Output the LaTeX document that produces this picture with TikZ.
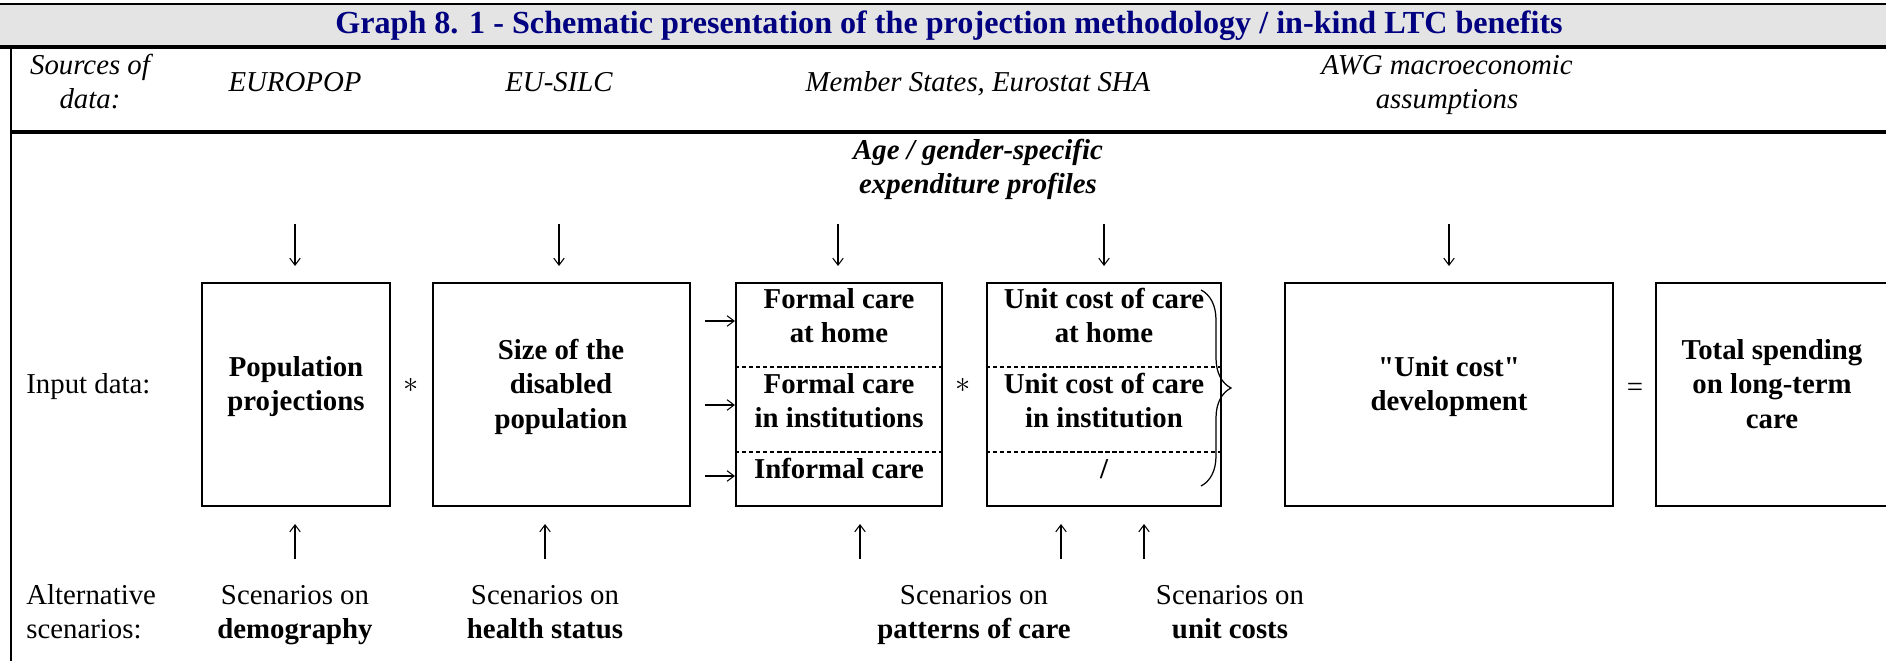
\documentclass[tikz,border=0pt]{standalone}
\usepackage{fontspec}
\setmainfont{Liberation Serif}[Ligatures=TeXOff]
\usetikzlibrary{arrows.meta,decorations.pathreplacing,fit}
\definecolor{titleblue}{RGB}{0,0,128}
\definecolor{titlegray}{RGB}{228,228,228}
\begin{document}
\begin{tikzpicture}[x=0.02cm,y=-0.02cm,
  lbl/.style={font=\fontsize{16.4}{19.5}\selectfont, align=center, inner sep=0pt},
  lblit/.style={font=\fontsize{16.4}{19.5}\selectfont\itshape, align=center, inner sep=0pt},
  boxtxt/.style={font=\fontsize{16.4}{19.5}\selectfont\bfseries, align=center, inner sep=0pt},
  bx/.style={draw, line width=1.2pt, inner sep=0pt},
  dsh/.style={line width=1pt, dash pattern=on 2.5pt off 1.5pt},
  arr/.style={-{Straight Barb[length=4pt,width=6pt]}, line width=0.6pt},
  rule/.style={line width=#1}
]
\useasboundingbox (0,0) rectangle (1886,661);
% title bar
\fill[titlegray] (0,4) rectangle (1886,47);
\draw[rule=1.1pt] (0,4) -- (1886,4);
\draw[rule=2.4pt] (0,47) -- (1886,47);
\node[font=\fontsize{18.3}{21}\selectfont\bfseries, text=titleblue, inner sep=0pt] (title) at (949,26)
  {Graph 8. 1 - Schematic presentation of the projection methodology / in-kind LTC benefits};
% frame
\draw[rule=1.2pt] (11,47) -- (11,661);
\draw[rule=1.8pt] (11,132) -- (1886,132);
% sources row
\node[lblit] (src) at (90,85) {\strut Sources of\\\strut data:};
\node[lblit] (europop) at (295,85) {\strut EUROPOP};
\node[lblit] (eusilc) at (559,85) {\strut EU-SILC};
\node[lblit] (ms) at (978,85) {\strut Member States, Eurostat SHA};
\node[lblit] (awg) at (1447,85) {\strut AWG macroeconomic\\\strut assumptions};
\node[lblit, font=\fontsize{16.4}{19.5}\selectfont\bfseries\itshape] (age) at (978,170) {\strut Age / gender-specific\\\strut expenditure profiles};
% boxes
\node[bx, fit={(202,283) (390,506)}] (pop) {};
\node[bx, fit={(433,283) (690,506)}] (size) {};
\node[bx, fit={(736,283) (942,506)}] (formal) {};
\node[bx, fit={(987,283) (1221,506)}] (unit) {};
\node[bx, fit={(1285,283) (1613,506)}] (ucdev) {};
\coordinate (totNW) at (1656,283);
\coordinate (totSW) at (1656,506);
\draw[line width=1.2pt] (1890,283) -- (totNW) -- (totSW) -- (1890,506);
\draw[dsh] (formal.west |- 0,367) -- (formal.east |- 0,367);
\draw[dsh] (formal.west |- 0,452) -- (formal.east |- 0,452);
\draw[dsh] (unit.west |- 0,367) -- (unit.east |- 0,367);
\draw[dsh] (unit.west |- 0,452) -- (unit.east |- 0,452);
% box texts
\node[boxtxt] (popt) at (296,387) {\strut Population\\\strut projections};
\node[boxtxt] (sizet) at (561,387) {\strut Size of the\\\strut disabled\\\strut population};
\node[boxtxt] (f1) at (839,319) {\strut Formal care\\\strut at home};
\node[boxtxt] (f2) at (839,404) {\strut Formal care\\\strut in institutions};
\node[boxtxt] (f3) at (839,472) {\strut Informal care};
\node[boxtxt] (u1) at (1104,319) {\strut Unit cost of care\\\strut at home};
\node[boxtxt] (u2) at (1104,404) {\strut Unit cost of care\\\strut in institution};
\node[boxtxt] (u3) at (1104,472) {\strut /};
\node[boxtxt] (ucdevt) at (1449,387) {\strut "Unit cost"\\\strut development};
\node[boxtxt] (tott) at (1772,387) {\strut Total spending\\\strut on long-term\\\strut care};
% operators
\node[lbl] (op1) at (411,385) {$\ast$};
\node[lbl] (op2) at (963,385) {$\ast$};
\node[lbl] (op3) at (1635,390) {=};
% brace
\coordinate (brT) at (1201,290);
\coordinate (brB) at (1201,486);
\draw[line width=0.7pt, decorate, decoration={brace, amplitude=0.6cm}] (brT) -- (brB);
% left labels
\node[lbl, anchor=west, align=left] (input) at (26,387) {\strut Input data:};
\node[lbl, anchor=west, align=left] (alt) at (26,615) {\strut Alternative\\\strut scenarios:};
% scenario labels
\node[lbl] (sc1) at (295,615) {\strut Scenarios on\\\strut\textbf{demography}};
\node[lbl] (sc2) at (545,615) {\strut Scenarios on\\\strut\textbf{health status}};
\node[lbl] (sc3) at (974,615) {\strut Scenarios on\\\strut\textbf{patterns of care}};
\node[lbl] (sc4) at (1230,615) {\strut Scenarios on\\\strut\textbf{unit costs}};
% down arrows
\foreach \n/\x in {d1/295, d2/559, d3/838, d4/1104, d5/1449}{
  \coordinate (\n a) at (\x,224);
  \coordinate (\n b) at (\x,266);
  \draw[arr] (\n a) -- (\n b);
}
% up arrows
\foreach \n/\x in {u1/295, u2/545, u3/860, u4/1061, u5/1144}{
  \coordinate (\n a) at (\x,559);
  \coordinate (\n b) at (\x,524);
  \draw[arr] (\n a) -- (\n b);
}
% side arrows
\foreach \n/\y in {s1/321, s2/405, s3/476}{
  \coordinate (\n a) at (705,\y);
  \draw[arr] (\n a) -- (formal.west |- \n a);
}
\end{tikzpicture}
\end{document}
